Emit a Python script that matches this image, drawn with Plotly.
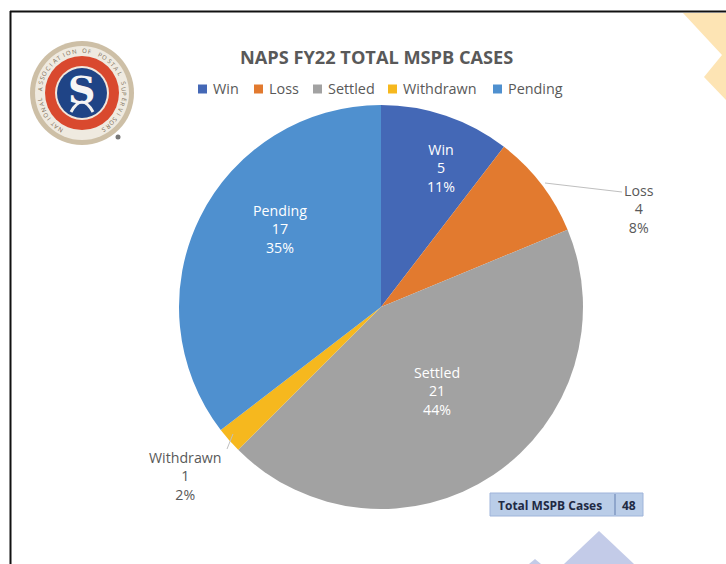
import math
import plotly.graph_objects as go

W, H = 726, 564
categories = ["Win", "Loss", "Settled", "Withdrawn", "Pending"]
case_counts = [5, 4, 21, 1, 17]
percent_labels = ["11%", "8%", "44%", "2%", "35%"]
slice_colors = ["#4468B6", "#E27A2F", "#A2A2A2", "#F6B81E", "#4F90CF"]
total_label = "Total MSPB Cases"
total_value = "48"
title_text = "NAPS FY22 TOTAL MSPB CASES"
ring_text = "NATIONAL ASSOCIATION OF POSTAL SUPERVISORS"

FONT = "Open Sans"
px = lambda x: x / W
py = lambda y: 1 - y / H

fig = go.Figure(go.Pie(
    labels=categories, values=case_counts, sort=False, direction="clockwise", rotation=0,
    textinfo="none", hoverinfo="label+value", showlegend=False,
    marker=dict(colors=slice_colors, line=dict(width=0)),
    domain=dict(x=[px(179), px(583)], y=[py(509), py(105)]),
))

shapes = []
def poly(points, color):
    path = "M " + " L ".join(f"{px(x):.5f},{py(y):.5f}" for x, y in points) + " Z"
    shapes.append(dict(type="path", xref="paper", yref="paper", path=path,
                       fillcolor=color, line=dict(width=0), layer="below"))
def circle(cx, cy, r, fill):
    shapes.append(dict(type="circle", xref="paper", yref="paper",
                       x0=px(cx - r), x1=px(cx + r), y0=py(cy + r), y1=py(cy - r),
                       fillcolor=fill, line=dict(width=0), layer="below"))
def seg(x0, y0, x1, y1, color, w):
    shapes.append(dict(type="line", xref="paper", yref="paper",
                       x0=px(x0), x1=px(x1), y0=py(y0), y1=py(y1),
                       line=dict(color=color, width=w)))

# decorative background
poly([(683, 13), (722, 55), (704, 77), (726, 100), (726, 13)], "#FDE4B4")
poly([(599, 531), (634, 564), (564, 564)], "#C3CBE8")
poly([(535, 559), (541, 564), (529, 564)], "#C3CBE8")

# frame
seg(10, 11.5, W, 11.5, "#111111", 2)
seg(10.5, 11, 10.5, H, "#111111", 2)

# logo
circle(82, 93, 52, "#CDBFA6")
circle(82, 93, 47, "#EFEAE0")
circle(82, 93, 37, "#D9492E")
circle(82, 93, 27, "#F1E6DC")
circle(82, 93, 25, "#1F4486")
circle(118, 137, 2.5, "#777777")
shapes.append(dict(type="path", xref="paper", yref="paper",
                   path=f"M {px(71):.5f},{py(112):.5f} Q {px(82):.5f},{py(92):.5f} {px(93):.5f},{py(112):.5f}",
                   line=dict(color="#F1F1F1", width=3)))

# leader lines
seg(545, 183, 622, 192, "#BFBFBF", 1)
seg(227, 449, 233, 434, "#BFBFBF", 1)

# totals box
shapes.append(dict(type="rect", xref="paper", yref="paper", x0=px(490), x1=px(643), y0=py(516), y1=py(493),
                   fillcolor="#BACDE8", line=dict(color="#9FB4DA", width=1), layer="below"))
seg(615, 494, 615, 515, "#8FA6CC", 2)

annotations = []
def text(x, y, s, size, color, bold=False, angle=0, font=FONT, anchor="center"):
    annotations.append(dict(xref="paper", yref="paper", x=px(x), y=py(y), text=f"<b>{s}</b>" if bold else s,
                            showarrow=False, xanchor=anchor, yanchor="middle", textangle=angle,
                            font=dict(family=font, size=size, color=color), align="center"))

text(376, 57, title_text, 18.2, "#595959", bold=True)

# legend
legend_swatch_x = [198, 254, 313, 388, 493]
for name, color, x in zip(categories, slice_colors, legend_swatch_x):
    shapes.append(dict(type="rect", xref="paper", yref="paper", x0=px(x), x1=px(x + 9), y0=py(93.5), y1=py(84.5),
                       fillcolor=color, line=dict(width=0)))
    text(x + 13, 89, name, 14.4, "#595959", anchor="left")

def pie_label(i, x, y, color):
    text(x, y, f"{categories[i]}<br>{case_counts[i]}<br>{percent_labels[i]}", 14.2, color)

pie_label(0, 441, 168, "#FFFFFF")
pie_label(1, 639, 209, "#595959")
pie_label(2, 437, 391, "#FFFFFF")
pie_label(3, 185, 476, "#595959")
pie_label(4, 280, 229, "#FFFFFF")

text(550, 505, total_label, 12, "#1F2A44", bold=True)
text(629, 505, total_value, 12, "#1F2A44", bold=True)

# logo monogram and ring lettering
text(81, 90, "S", 38, "#F5F5F5", bold=True, font="DejaVu Serif")
n = len(ring_text)
for i, ch in enumerate(ring_text):
    a = -150 + 300 * i / (n - 1)
    x = 82 + 42 * math.sin(math.radians(a))
    y = 93 - 42 * math.cos(math.radians(a))
    text(x, y, ch, 6, "#7A6A55", angle=a)

fig.update_layout(
    width=W, height=H, autosize=False,
    margin=dict(l=0, r=0, t=0, b=0),
    paper_bgcolor="#FFFFFF",
    shapes=shapes, annotations=annotations,
)
fig.write_html("out.html", config=dict(displayModeBar=False),
               post_script="document.body.style.margin='0';document.documentElement.style.overflow='hidden';")
